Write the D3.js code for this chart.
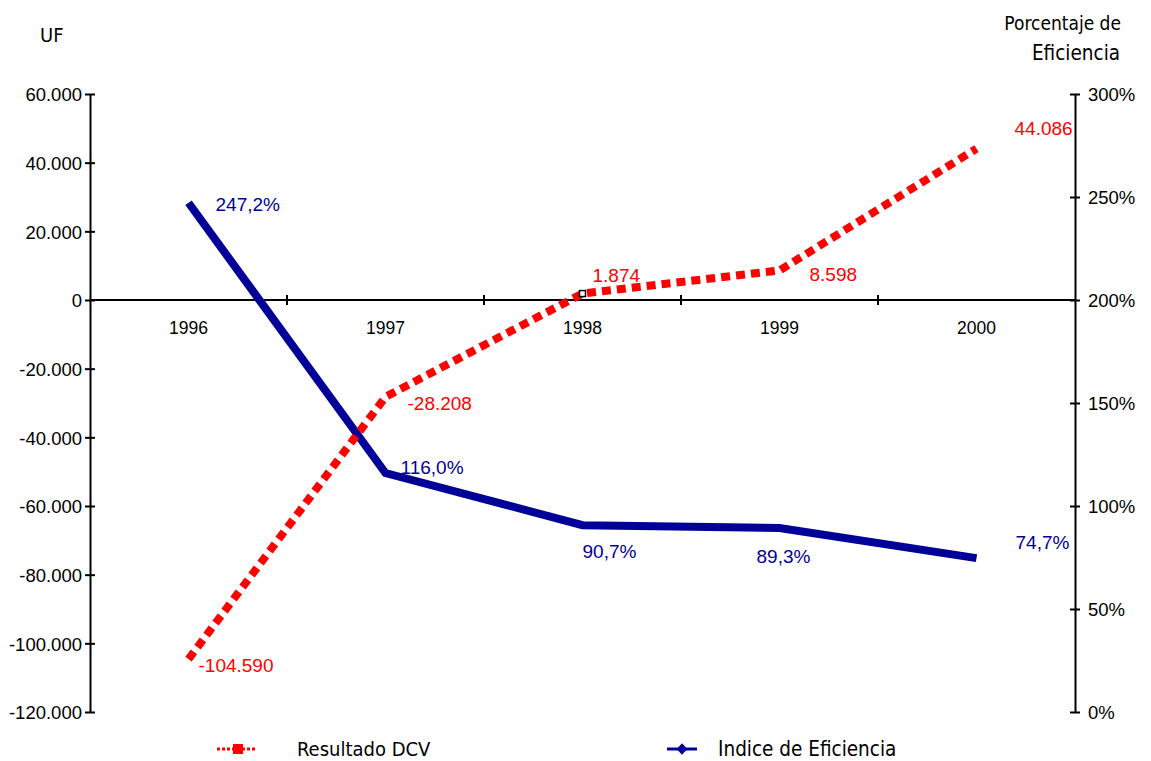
<!DOCTYPE html>
<html>
<head>
<meta charset="utf-8">
<script src="https://cdn.jsdelivr.net/npm/d3@7"></script>
<style>
body { margin: 0; background: #fff; }
</style>
</head>
<body>
<script>
var years = ["1996", "1997", "1998", "1999", "2000"];
var resultado = [-104590, -28208, 1874, 8598, 44086];
var eficiencia = [2.472, 1.160, 0.907, 0.893, 0.747];
var leftTicks = [60000, 40000, 20000, 0, -20000, -40000, -60000, -80000, -100000, -120000];
var rightTicks = [0, 0.5, 1, 1.5, 2, 2.5, 3];

var w = 1151, h = 761;
var x0 = 90, x1 = 1075, yTop = 94, yBot = 712;
var af = "'Liberation Sans', Arial, sans-serif";
var tf = "'DejaVu Sans Condensed', sans-serif";

var svg = d3.select("body").append("svg").attr("width", w).attr("height", h);

var x = d3.scaleBand().domain(years).range([x0, x1]);
var yL = d3.scaleLinear().domain([-120000, 60000]).range([yBot, yTop]);
var yR = d3.scaleLinear().domain([0, 3]).range([yBot, yTop]);

var fmtL = function(d) { return d3.format(",")(d).replace(/,/g, ".").replace("\u2212", "-"); };
var fmtR = function(d) { return Math.round(d * 100) + "%"; };

// left axis
var gl = svg.append("g").attr("transform", "translate(" + x0 + ",0)")
	.call(d3.axisLeft(yL).tickValues(leftTicks).tickFormat(fmtL).tickSizeInner(0).tickSizeOuter(0));
gl.selectAll(".tick line").remove();
gl.selectAll(".tick").append("line").attr("x1", -5).attr("x2", 5).attr("stroke", "#000").attr("stroke-width", 2);
gl.selectAll("text").attr("x", -8).attr("dy", "0.36em");

// right axis
var gr = svg.append("g").attr("transform", "translate(" + x1 + ",0)")
	.call(d3.axisRight(yR).tickValues(rightTicks).tickFormat(fmtR).tickSizeInner(0).tickSizeOuter(0));
gr.selectAll(".tick line").remove();
gr.selectAll(".tick").append("line").attr("x1", -5).attr("x2", 5).attr("stroke", "#000").attr("stroke-width", 2);
gr.selectAll("text").attr("x", 13).attr("dy", "0.36em");

[gl, gr].forEach(function(g) {
	g.attr("font-family", null).attr("font-size", null);
	g.select(".domain").attr("stroke", "#000").attr("stroke-width", 2);
	g.selectAll("text").style("font-family", af).style("font-size", "18.5px").attr("fill", "#000");
});

// zero line with category ticks
var y0 = yL(0);
svg.append("line").attr("x1", x0).attr("x2", x1).attr("y1", y0).attr("y2", y0)
	.attr("stroke", "#000").attr("stroke-width", 2);
svg.selectAll(".catTick").data(years.slice(1)).enter().append("line")
	.attr("x1", function(d) { return x(d); }).attr("x2", function(d) { return x(d); })
	.attr("y1", y0 - 5).attr("y2", y0 + 5).attr("stroke", "#000").attr("stroke-width", 2);
svg.selectAll(".yearLab").data(years).enter().append("text")
	.attr("x", function(d) { return x(d) + x.bandwidth() / 2; })
	.attr("y", y0 + 34)
	.attr("text-anchor", "middle")
	.style("font-family", af)
	.style("font-size", "17.5px")
	.text(function(d) { return d; });

var cx = function(d, i) { return x(years[i]) + x.bandwidth() / 2; };

// blue line
svg.append("path").datum(eficiencia)
	.attr("d", d3.line().x(cx).y(function(d) { return yR(d); }))
	.attr("fill", "none").attr("stroke", "#000099").attr("stroke-width", 8);

// red dashed line
svg.append("path").datum(resultado)
	.attr("d", d3.line().x(cx).y(function(d) { return yL(d); }))
	.attr("fill", "none").attr("stroke", "#ff0000").attr("stroke-width", 8)
	.attr("stroke-dasharray", "9,6");

// small marker at 1998
svg.append("rect").attr("x", cx(null, 2) - 3).attr("y", yL(resultado[2]) - 3)
	.attr("width", 6).attr("height", 6).attr("fill", "#fff").attr("stroke", "#000").attr("stroke-width", 1.5);

// labels
var redOff = [[10, 6], [22, 6], [10, -18], [30, 4], [38, -20]];
svg.selectAll(".redLab").data(resultado).enter().append("text")
	.attr("x", function(d, i) { return cx(d, i) + redOff[i][0]; })
	.attr("y", function(d, i) { return yL(d) + redOff[i][1]; })
	.attr("dy", "0.36em")
	.style("font-family", af)
	.style("font-size", "19px").attr("fill", "#ff0000")
	.text(function(d) { return fmtL(d); });

var blueOff = [[27, 1], [15, -6], [0, 26], [-23, 28], [39, -16]];
svg.selectAll(".blueLab").data(eficiencia).enter().append("text")
	.attr("x", function(d, i) { return cx(d, i) + blueOff[i][0]; })
	.attr("y", function(d, i) { return yR(d) + blueOff[i][1]; })
	.attr("dy", "0.36em")
	.style("font-family", af)
	.style("font-size", "19px").attr("fill", "#000099")
	.text(function(d) { return (d * 100).toFixed(1).replace(".", ",") + "%"; });

// titles
svg.append("text").attr("x", 40).attr("y", 42).style("font-family", tf).style("font-size", "20px").text("UF");
svg.append("text").attr("x", 1121).attr("y", 30).attr("text-anchor", "end").style("font-family", tf).style("font-size", "19px").text("Porcentaje de");
svg.append("text").attr("x", 1076).attr("y", 60).attr("text-anchor", "middle").style("font-family", tf).style("font-size", "20.5px").text("Eficiencia");

// legend
var ly = 749;
svg.append("line").attr("x1", 217).attr("x2", 257).attr("y1", ly).attr("y2", ly)
	.attr("stroke", "#ff0000").attr("stroke-width", 3).attr("stroke-dasharray", "3,2");
svg.append("rect").attr("x", 233).attr("y", ly - 5).attr("width", 10).attr("height", 10).attr("fill", "#ff0000");
svg.append("text").attr("x", 297).attr("y", ly + 7).style("font-family", tf).style("font-size", "20px").text("Resultado DCV");

svg.append("line").attr("x1", 667).attr("x2", 697).attr("y1", ly).attr("y2", ly)
	.attr("stroke", "#000099").attr("stroke-width", 3);
svg.append("path").attr("d", d3.symbol().type(d3.symbolDiamond).size(60)())
	.attr("transform", "translate(682," + ly + ") scale(1.3,0.8)").attr("fill", "#000099");
svg.append("text").attr("x", 718).attr("y", ly + 7).style("font-family", tf).style("font-size", "20.5px").text("Indice de Eficiencia");
</script>
</body>
</html>
